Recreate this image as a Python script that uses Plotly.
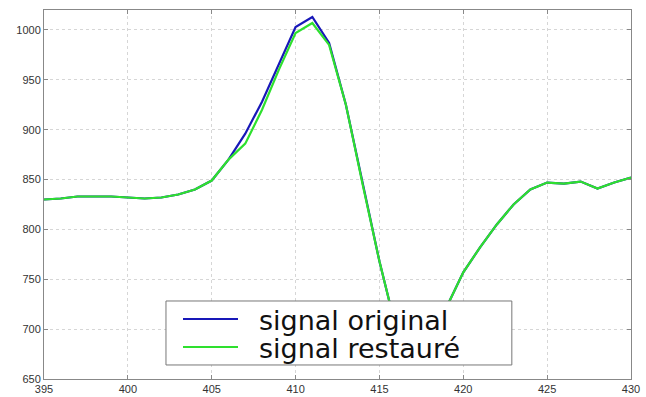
import plotly.graph_objects as go

x = list(range(395, 431))
original = [830, 831, 833, 833, 833, 832, 831, 832, 835, 840,
            849, 870, 896, 928, 966, 1003, 1013, 987, 925, 845,
            768, 700, 678, 690, 722, 757, 782, 805, 825, 840,
            847, 846, 848, 841, 847, 852]
restored = [830, 831, 833, 833, 833, 832, 831, 832, 835, 840,
            849, 870, 886, 920, 960, 997, 1007, 985, 925, 845,
            768, 700, 678, 690, 722, 757, 782, 805, 825, 840,
            847, 846, 848, 841, 847, 852]
names = ["signal original", "signal restauré"]
colors = ["#1818b8", "#2ee02e"]

fig = go.Figure()
for y, n, c in zip([original, restored], names, colors):
    fig.add_trace(go.Scatter(x=x, y=y, mode="lines", name=n, showlegend=False,
                             line=dict(color=c, width=2.2)))

axis_common = dict(showline=True, linecolor="#888", linewidth=1, mirror="ticks",
                   ticks="inside", ticklen=4, tickcolor="#888",
                   showgrid=True, gridcolor="#d6d6d6", griddash="dot", gridwidth=1,
                   zeroline=False, tickfont=dict(family="Liberation Sans, Arial", size=11, color="#333"),
                   automargin=False)

fig.update_xaxes(range=[395, 430], tickvals=list(range(395, 431, 5)), **axis_common)
fig.update_yaxes(range=[650, 1020], tickvals=list(range(650, 1001, 50)), **axis_common)

# legend frame (drawn manually to match the original layout)
fig.add_shape(type="rect", xref="paper", yref="paper", x0=0.2078, x1=0.797, y0=0.038, y1=0.2114,
              line=dict(color="#777", width=1), fillcolor="white", layer="above")
rows_y = [0.1626, 0.0867]
for n, c, ry in zip(names, colors, rows_y):
    fig.add_shape(type="line", xref="paper", yref="paper", x0=0.2368, x1=0.3305, y0=ry, y1=ry,
                  line=dict(color=c, width=2), layer="above")
    fig.add_annotation(xref="paper", yref="paper", x=0.3629, y=ry - 0.004, text=n,
                       showarrow=False, xanchor="left", yanchor="middle",
                       font=dict(family="DejaVu Sans", size=27, color="#111"))

fig.update_layout(
    width=646, height=397,
    margin=dict(l=44, r=15, t=10, b=18),
    paper_bgcolor="white", plot_bgcolor="white",
    showlegend=False,
)

fig.write_html("out.html")
